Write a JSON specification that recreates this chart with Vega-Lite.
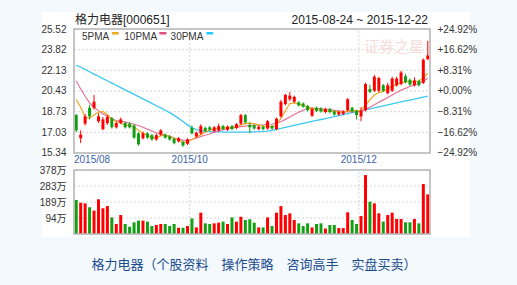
{
  "$schema": "https://vega.github.io/schema/vega-lite/v6.json",
  "width": 366,
  "height": 205,
  "autosize": {"type": "none"},
  "padding": {"left": 69, "top": 29, "right": 82, "bottom": 51},
  "background": "#f4f9fe",
  "config": {"view": {"stroke": null}, "font": "Liberation Sans, Noto Sans CJK SC"},
  "datasets": {
    "k": [
      {"d":"2015-08-24","i":0,"o":18.45,"h":18.55,"l":17.05,"c":17.20,"dir":"down","v":201,"m5":19.72,"m10":21.25,"m30":22.55},
      {"d":"2015-08-25","i":1,"o":16.55,"h":17.20,"l":16.15,"c":16.85,"dir":"up","v":185,"m5":19.10,"m10":20.60,"m30":22.38},
      {"d":"2015-08-26","i":2,"o":17.75,"h":18.55,"l":17.60,"c":18.35,"dir":"up","v":181,"m5":18.25,"m10":20.00,"m30":22.20},
      {"d":"2015-08-27","i":3,"o":19.05,"h":19.30,"l":18.10,"c":18.35,"dir":"down","v":158,"m5":18.20,"m10":19.45,"m30":22.01},
      {"d":"2015-08-28","i":4,"o":19.05,"h":20.10,"l":18.90,"c":19.55,"dir":"up","v":138,"m5":18.45,"m10":19.10,"m30":21.82},
      {"d":"2015-08-31","i":5,"o":17.95,"h":18.60,"l":17.80,"c":18.35,"dir":"up","v":205,"m5":18.70,"m10":18.80,"m30":21.64},
      {"d":"2015-09-01","i":6,"o":17.30,"h":18.30,"l":17.20,"c":18.10,"dir":"up","v":152,"m5":18.75,"m10":18.55,"m30":21.45},
      {"d":"2015-09-02","i":7,"o":17.80,"h":18.45,"l":17.65,"c":18.30,"dir":"up","v":165,"m5":18.50,"m10":18.35,"m30":21.27},
      {"d":"2015-09-07","i":8,"o":18.20,"h":18.30,"l":17.35,"c":17.45,"dir":"down","v":98,"m5":18.10,"m10":18.15,"m30":21.08},
      {"d":"2015-09-08","i":9,"o":17.45,"h":17.95,"l":17.35,"c":17.80,"dir":"up","v":59,"m5":17.95,"m10":18.00,"m30":20.90},
      {"d":"2015-09-09","i":10,"o":17.80,"h":18.25,"l":17.70,"c":18.10,"dir":"up","v":112,"m5":17.80,"m10":17.95,"m30":20.71},
      {"d":"2015-09-10","i":11,"o":17.80,"h":17.90,"l":17.35,"c":17.45,"dir":"down","v":59,"m5":17.65,"m10":17.90,"m30":20.52},
      {"d":"2015-09-11","i":12,"o":17.75,"h":17.85,"l":17.35,"c":17.45,"dir":"down","v":43,"m5":17.60,"m10":17.80,"m30":20.34},
      {"d":"2015-09-14","i":13,"o":17.60,"h":17.70,"l":16.50,"c":16.60,"dir":"down","v":69,"m5":17.45,"m10":17.70,"m30":20.15},
      {"d":"2015-09-15","i":14,"o":16.95,"h":17.05,"l":15.95,"c":16.05,"dir":"down","v":79,"m5":17.20,"m10":17.60,"m30":19.97},
      {"d":"2015-09-16","i":15,"o":16.55,"h":17.10,"l":16.45,"c":16.95,"dir":"up","v":79,"m5":16.95,"m10":17.45,"m30":19.78},
      {"d":"2015-09-17","i":16,"o":16.95,"h":17.05,"l":16.50,"c":16.60,"dir":"down","v":73,"m5":16.80,"m10":17.30,"m30":19.60},
      {"d":"2015-09-18","i":17,"o":16.80,"h":16.90,"l":16.35,"c":16.45,"dir":"down","v":47,"m5":16.60,"m10":17.15,"m30":19.41},
      {"d":"2015-09-21","i":18,"o":16.45,"h":16.95,"l":16.35,"c":16.80,"dir":"up","v":53,"m5":16.60,"m10":17.00,"m30":19.22},
      {"d":"2015-09-22","i":19,"o":16.85,"h":17.30,"l":16.75,"c":17.20,"dir":"up","v":59,"m5":16.75,"m10":16.90,"m30":19.04},
      {"d":"2015-09-23","i":20,"o":16.85,"h":16.95,"l":16.50,"c":16.60,"dir":"down","v":59,"m5":16.80,"m10":16.80,"m30":18.85},
      {"d":"2015-09-24","i":21,"o":16.70,"h":16.80,"l":16.35,"c":16.45,"dir":"down","v":47,"m5":16.70,"m10":16.70,"m30":18.65},
      {"d":"2015-09-25","i":22,"o":16.50,"h":16.60,"l":16.05,"c":16.15,"dir":"down","v":59,"m5":16.55,"m10":16.55,"m30":18.43},
      {"d":"2015-09-28","i":23,"o":16.30,"h":16.65,"l":16.20,"c":16.55,"dir":"up","v":37,"m5":16.40,"m10":16.45,"m30":18.18},
      {"d":"2015-09-29","i":24,"o":16.25,"h":16.35,"l":15.85,"c":15.95,"dir":"down","v":37,"m5":16.20,"m10":16.40,"m30":17.92},
      {"d":"2015-09-30","i":25,"o":16.10,"h":16.55,"l":16.00,"c":16.45,"dir":"up","v":47,"m5":16.25,"m10":16.38,"m30":17.65},
      {"d":"2015-10-08","i":26,"o":17.40,"h":17.60,"l":16.85,"c":16.95,"dir":"down","v":92,"m5":16.45,"m10":16.45,"m30":17.42},
      {"d":"2015-10-09","i":27,"o":16.70,"h":17.10,"l":16.60,"c":17.00,"dir":"up","v":39,"m5":16.65,"m10":16.55,"m30":17.25},
      {"d":"2015-10-12","i":28,"o":16.95,"h":17.70,"l":16.85,"c":17.55,"dir":"up","v":126,"m5":16.85,"m10":16.70,"m30":17.17},
      {"d":"2015-10-13","i":29,"o":17.40,"h":17.50,"l":17.05,"c":17.15,"dir":"down","v":63,"m5":17.05,"m10":16.80,"m30":17.12},
      {"d":"2015-10-14","i":30,"o":17.45,"h":17.55,"l":17.15,"c":17.25,"dir":"down","v":59,"m5":17.25,"m10":16.90,"m30":17.10},
      {"d":"2015-10-15","i":31,"o":17.15,"h":17.55,"l":17.05,"c":17.45,"dir":"up","v":63,"m5":17.30,"m10":17.05,"m30":17.08},
      {"d":"2015-10-16","i":32,"o":17.20,"h":17.75,"l":17.10,"c":17.55,"dir":"up","v":67,"m5":17.35,"m10":17.15,"m30":17.07},
      {"d":"2015-10-19","i":33,"o":17.55,"h":17.65,"l":17.20,"c":17.30,"dir":"down","v":73,"m5":17.40,"m10":17.25,"m30":17.06},
      {"d":"2015-10-20","i":34,"o":17.25,"h":17.60,"l":17.15,"c":17.50,"dir":"up","v":59,"m5":17.40,"m10":17.35,"m30":17.05},
      {"d":"2015-10-21","i":35,"o":17.55,"h":17.65,"l":17.20,"c":17.30,"dir":"down","v":98,"m5":17.45,"m10":17.40,"m30":17.05},
      {"d":"2015-10-22","i":36,"o":17.40,"h":17.80,"l":17.30,"c":17.70,"dir":"up","v":73,"m5":17.50,"m10":17.45,"m30":17.05},
      {"d":"2015-10-23","i":37,"o":17.75,"h":18.55,"l":17.65,"c":18.45,"dir":"up","v":102,"m5":17.65,"m10":17.50,"m30":17.06},
      {"d":"2015-10-26","i":38,"o":18.45,"h":18.55,"l":17.75,"c":17.85,"dir":"down","v":83,"m5":17.75,"m10":17.55,"m30":17.06},
      {"d":"2015-10-27","i":39,"o":17.65,"h":17.85,"l":16.95,"c":17.45,"dir":"down","v":87,"m5":17.80,"m10":17.60,"m30":17.07},
      {"d":"2015-10-28","i":40,"o":17.60,"h":17.70,"l":17.25,"c":17.35,"dir":"down","v":67,"m5":17.75,"m10":17.62,"m30":17.08},
      {"d":"2015-10-29","i":41,"o":17.30,"h":17.60,"l":17.20,"c":17.50,"dir":"up","v":39,"m5":17.65,"m10":17.64,"m30":17.09},
      {"d":"2015-10-30","i":42,"o":17.50,"h":17.60,"l":17.20,"c":17.30,"dir":"down","v":39,"m5":17.55,"m10":17.66,"m30":17.11},
      {"d":"2015-11-02","i":43,"o":17.35,"h":18.05,"l":17.25,"c":17.95,"dir":"up","v":98,"m5":17.50,"m10":17.70,"m30":17.14},
      {"d":"2015-11-03","i":44,"o":17.55,"h":17.65,"l":17.25,"c":17.35,"dir":"down","v":47,"m5":17.50,"m10":17.72,"m30":17.20},
      {"d":"2015-11-04","i":45,"o":17.30,"h":18.25,"l":17.20,"c":18.15,"dir":"up","v":126,"m5":17.60,"m10":17.78,"m30":17.28},
      {"d":"2015-11-05","i":46,"o":18.35,"h":19.70,"l":18.25,"c":19.55,"dir":"up","v":165,"m5":18.20,"m10":17.90,"m30":17.36},
      {"d":"2015-11-06","i":47,"o":19.35,"h":20.20,"l":19.25,"c":20.10,"dir":"up","v":112,"m5":18.80,"m10":18.10,"m30":17.45},
      {"d":"2015-11-09","i":48,"o":19.75,"h":20.35,"l":19.60,"c":20.05,"dir":"up","v":122,"m5":19.40,"m10":18.30,"m30":17.53},
      {"d":"2015-11-10","i":49,"o":19.55,"h":20.05,"l":19.45,"c":19.95,"dir":"up","v":83,"m5":19.45,"m10":18.50,"m30":17.61},
      {"d":"2015-11-11","i":50,"o":19.50,"h":19.60,"l":19.15,"c":19.25,"dir":"down","v":63,"m5":19.35,"m10":18.70,"m30":17.69},
      {"d":"2015-11-12","i":51,"o":19.40,"h":19.50,"l":19.05,"c":19.15,"dir":"down","v":47,"m5":19.25,"m10":18.85,"m30":17.77},
      {"d":"2015-11-13","i":52,"o":19.20,"h":19.30,"l":18.75,"c":18.85,"dir":"down","v":63,"m5":19.10,"m10":19.00,"m30":17.85},
      {"d":"2015-11-16","i":53,"o":18.40,"h":19.05,"l":18.30,"c":18.95,"dir":"up","v":39,"m5":19.00,"m10":19.02,"m30":17.93},
      {"d":"2015-11-17","i":54,"o":19.05,"h":19.15,"l":18.70,"c":18.80,"dir":"down","v":59,"m5":18.90,"m10":19.00,"m30":18.01},
      {"d":"2015-11-18","i":55,"o":19.00,"h":19.10,"l":18.65,"c":18.75,"dir":"down","v":63,"m5":18.85,"m10":18.97,"m30":18.09},
      {"d":"2015-11-19","i":56,"o":18.70,"h":19.05,"l":18.60,"c":18.95,"dir":"up","v":33,"m5":18.80,"m10":18.95,"m30":18.17},
      {"d":"2015-11-20","i":57,"o":18.95,"h":19.05,"l":18.60,"c":18.70,"dir":"down","v":53,"m5":18.78,"m10":18.90,"m30":18.25},
      {"d":"2015-11-23","i":58,"o":18.75,"h":18.85,"l":18.40,"c":18.50,"dir":"down","v":53,"m5":18.75,"m10":18.85,"m30":18.33},
      {"d":"2015-11-24","i":59,"o":18.50,"h":18.80,"l":18.40,"c":18.70,"dir":"up","v":35,"m5":18.72,"m10":18.80,"m30":18.41},
      {"d":"2015-11-25","i":60,"o":18.55,"h":18.85,"l":18.45,"c":18.75,"dir":"up","v":35,"m5":18.70,"m10":18.75,"m30":18.49},
      {"d":"2015-11-26","i":61,"o":18.85,"h":19.85,"l":18.75,"c":19.75,"dir":"up","v":128,"m5":18.80,"m10":18.72,"m30":18.57},
      {"d":"2015-11-27","i":62,"o":19.05,"h":19.15,"l":18.65,"c":18.75,"dir":"down","v":83,"m5":18.82,"m10":18.72,"m30":18.65},
      {"d":"2015-11-30","i":63,"o":18.80,"h":18.90,"l":18.10,"c":18.45,"dir":"down","v":59,"m5":18.80,"m10":18.75,"m30":18.73},
      {"d":"2015-12-01","i":64,"o":18.35,"h":19.10,"l":17.95,"c":18.80,"dir":"up","v":106,"m5":18.85,"m10":18.78,"m30":18.81},
      {"d":"2015-12-02","i":65,"o":18.85,"h":21.10,"l":18.75,"c":21.00,"dir":"up","v":348,"m5":19.25,"m10":18.90,"m30":18.89},
      {"d":"2015-12-03","i":66,"o":20.60,"h":20.95,"l":20.25,"c":20.35,"dir":"down","v":191,"m5":19.70,"m10":19.10,"m30":18.97},
      {"d":"2015-12-04","i":67,"o":20.45,"h":21.75,"l":20.35,"c":21.60,"dir":"up","v":181,"m5":20.10,"m10":19.30,"m30":19.05},
      {"d":"2015-12-07","i":68,"o":20.45,"h":21.60,"l":20.35,"c":21.50,"dir":"up","v":122,"m5":20.30,"m10":19.50,"m30":19.13},
      {"d":"2015-12-08","i":69,"o":20.90,"h":21.00,"l":20.35,"c":20.45,"dir":"down","v":73,"m5":20.40,"m10":19.70,"m30":19.21},
      {"d":"2015-12-09","i":70,"o":20.25,"h":21.10,"l":20.15,"c":20.90,"dir":"up","v":112,"m5":20.60,"m10":19.90,"m30":19.29},
      {"d":"2015-12-10","i":71,"o":20.45,"h":21.60,"l":20.35,"c":21.45,"dir":"up","v":126,"m5":20.80,"m10":20.10,"m30":19.37},
      {"d":"2015-12-11","i":72,"o":20.90,"h":21.60,"l":20.80,"c":21.45,"dir":"up","v":89,"m5":20.95,"m10":20.30,"m30":19.45},
      {"d":"2015-12-14","i":73,"o":21.00,"h":22.10,"l":20.90,"c":21.95,"dir":"up","v":89,"m5":21.10,"m10":20.50,"m30":19.53},
      {"d":"2015-12-15","i":74,"o":21.65,"h":21.85,"l":21.05,"c":21.15,"dir":"down","v":69,"m5":21.20,"m10":20.65,"m30":19.61},
      {"d":"2015-12-16","i":75,"o":21.35,"h":21.45,"l":20.85,"c":20.95,"dir":"down","v":69,"m5":21.20,"m10":20.80,"m30":19.69},
      {"d":"2015-12-17","i":76,"o":20.90,"h":21.55,"l":20.80,"c":21.30,"dir":"up","v":89,"m5":21.20,"m10":20.92,"m30":19.77},
      {"d":"2015-12-18","i":77,"o":21.25,"h":21.35,"l":20.80,"c":20.90,"dir":"down","v":63,"m5":21.25,"m10":21.05,"m30":19.85},
      {"d":"2015-12-21","i":78,"o":21.10,"h":23.10,"l":21.00,"c":23.00,"dir":"up","v":295,"m5":21.50,"m10":21.25,"m30":19.93},
      {"d":"2015-12-22","i":79,"o":23.05,"h":24.55,"l":22.95,"c":23.35,"dir":"up","v":234,"m5":21.90,"m10":21.47,"m30":20.01}
    ],
    "pg": [{"v": 17.03}, {"v": 18.73}, {"v": 20.43}, {"v": 22.13}, {"v": 23.82}],
    "vg": [{"v": 94.5}, {"v": 189}, {"v": 283.5}]
  },
  "resolve": {"scale": {"y": "independent"}, "axis": {"y": "independent"}},
  "layer": [
    {
      "layer": [
        {
          "data": {"values": [{}]},
          "mark": {"type": "rect", "fill": "#ffffff", "clip": false},
          "encoding": {
            "x": {"datum": -7.71, "type": "quantitative", "scale": {"domain": [-0.5, 79.5], "nice": false, "zero": false}, "axis": null},
            "x2": {"datum": 88.46},
            "y": {"datum": 26.916, "type": "quantitative", "scale": {"domain": [8.69, 25.52], "nice": false, "zero": false}, "axis": null},
            "y2": {"datum": 8.444}
          }
        },
        {
          "data": {"name": "pg"},
          "mark": {"type": "rule", "stroke": "#d6d6d6", "strokeDash": [2, 2], "strokeWidth": 1},
          "encoding": {
            "x": {"datum": -0.5, "type": "quantitative", "scale": {"domain": [-0.5, 79.5], "nice": false, "zero": false}, "axis": null},
            "x2": {"datum": 79.5},
            "y": {"field": "v", "type": "quantitative", "scale": {"domain": [8.69, 25.52], "nice": false, "zero": false}, "axis": null}
          }
        },
        {
          "data": {"values": [{}]},
          "mark": {"type": "rule", "stroke": "#d6d6d6", "strokeDash": [2, 2], "strokeWidth": 1},
          "encoding": {
            "x": {"datum": 25.5, "type": "quantitative", "scale": {"domain": [-0.5, 79.5], "nice": false, "zero": false}, "axis": null},
            "y": {"datum": 15.34, "type": "quantitative", "scale": {"domain": [8.69, 25.52], "nice": false, "zero": false}, "axis": null},
            "y2": {"datum": 25.52}
          }
        },
        {
          "data": {"values": [{}]},
          "mark": {"type": "rule", "stroke": "#d6d6d6", "strokeDash": [2, 2], "strokeWidth": 1},
          "encoding": {
            "x": {"datum": 63.5, "type": "quantitative", "scale": {"domain": [-0.5, 79.5], "nice": false, "zero": false}, "axis": null},
            "y": {"datum": 15.34, "type": "quantitative", "scale": {"domain": [8.69, 25.52], "nice": false, "zero": false}, "axis": null},
            "y2": {"datum": 25.52}
          }
        },
        {
          "data": {"name": "k"},
          "mark": {"type": "line", "stroke": "#3cc8f4", "strokeWidth": 1.3},
          "encoding": {
            "x": {"field": "i", "type": "quantitative", "scale": {"domain": [-0.5, 79.5], "nice": false, "zero": false}, "axis": null},
            "y": {"field": "m30", "type": "quantitative", "scale": {"domain": [8.69, 25.52], "nice": false, "zero": false}, "axis": null}
          }
        },
        {
          "data": {"name": "k"},
          "mark": {"type": "line", "stroke": "#e4749c", "strokeWidth": 1.2},
          "encoding": {
            "x": {"field": "i", "type": "quantitative", "scale": {"domain": [-0.5, 79.5], "nice": false, "zero": false}, "axis": null},
            "y": {"field": "m10", "type": "quantitative", "scale": {"domain": [8.69, 25.52], "nice": false, "zero": false}, "axis": null}
          }
        },
        {
          "data": {"name": "k"},
          "mark": {"type": "line", "stroke": "#eeaa22", "strokeWidth": 1.2},
          "encoding": {
            "x": {"field": "i", "type": "quantitative", "scale": {"domain": [-0.5, 79.5], "nice": false, "zero": false}, "axis": null},
            "y": {"field": "m5", "type": "quantitative", "scale": {"domain": [8.69, 25.52], "nice": false, "zero": false}, "axis": null}
          }
        },
        {
          "data": {"name": "k"},
          "mark": {"type": "rule", "strokeWidth": 1},
          "encoding": {
            "x": {"field": "i", "type": "quantitative", "scale": {"domain": [-0.5, 79.5], "nice": false, "zero": false}, "axis": null},
            "y": {"field": "l", "type": "quantitative", "scale": {"domain": [8.69, 25.52], "nice": false, "zero": false}, "axis": null},
            "y2": {"field": "h"},
            "color": {"field": "dir", "type": "nominal", "scale": {"domain": ["up", "down"], "range": ["#ff0000", "#12a012"]}, "legend": null}
          }
        },
        {
          "data": {"name": "k"},
          "mark": {"type": "bar", "size": 3},
          "encoding": {
            "x": {"field": "i", "type": "quantitative", "scale": {"domain": [-0.5, 79.5], "nice": false, "zero": false}, "axis": null},
            "y": {"field": "o", "type": "quantitative", "scale": {"domain": [8.69, 25.52], "nice": false, "zero": false}, "axis": null},
            "y2": {"field": "c"},
            "color": {"field": "dir", "type": "nominal", "scale": {"domain": ["up", "down"], "range": ["#ff0000", "#12a012"]}, "legend": null}
          }
        },
        {
          "data": {"values": [{}]},
          "mark": {"type": "rect", "fillOpacity": 0, "stroke": "#b2b2b2", "strokeWidth": 1.5, "clip": false},
          "encoding": {
            "x": {"datum": -0.5, "type": "quantitative", "scale": {"domain": [-0.5, 79.5], "nice": false, "zero": false}, "axis": null},
            "x2": {"datum": 79.5},
            "y": {"datum": 15.34, "type": "quantitative", "scale": {"domain": [8.69, 25.52], "nice": false, "zero": false}, "axis": null},
            "y2": {"datum": 25.52}
          }
        },
        {
          "data": {"values": [{}]},
          "mark": {"type": "text", "text": "证券之星", "font": "Noto Sans CJK SC", "fontSize": 15, "color": "#f7dcdc", "align": "center", "baseline": "middle", "clip": false},
          "encoding": {
            "x": {"datum": 71.4, "type": "quantitative", "scale": {"domain": [-0.5, 79.5], "nice": false, "zero": false}, "axis": null},
            "y": {"datum": 24.04, "type": "quantitative", "scale": {"domain": [8.69, 25.52], "nice": false, "zero": false}, "axis": null}
          }
        },
        {
          "data": {"values": [{}]},
          "mark": {"type": "text", "text": "5PMA", "fontSize": 10, "color": "#333333", "align": "left", "baseline": "middle", "clip": false},
          "encoding": {
            "x": {"datum": 1.31, "type": "quantitative", "scale": {"domain": [-0.5, 79.5], "nice": false, "zero": false}, "axis": null},
            "y": {"datum": 24.84, "type": "quantitative", "scale": {"domain": [8.69, 25.52], "nice": false, "zero": false}, "axis": null}
          }
        },
        {
          "data": {"values": [{}]},
          "mark": {"type": "text", "text": "10PMA", "fontSize": 10, "color": "#333333", "align": "left", "baseline": "middle", "clip": false},
          "encoding": {
            "x": {"datum": 10.8, "type": "quantitative", "scale": {"domain": [-0.5, 79.5], "nice": false, "zero": false}, "axis": null},
            "y": {"datum": 24.84, "type": "quantitative", "scale": {"domain": [8.69, 25.52], "nice": false, "zero": false}, "axis": null}
          }
        },
        {
          "data": {"values": [{}]},
          "mark": {"type": "text", "text": "30PMA", "fontSize": 10, "color": "#333333", "align": "left", "baseline": "middle", "clip": false},
          "encoding": {
            "x": {"datum": 21.2, "type": "quantitative", "scale": {"domain": [-0.5, 79.5], "nice": false, "zero": false}, "axis": null},
            "y": {"datum": 24.84, "type": "quantitative", "scale": {"domain": [8.69, 25.52], "nice": false, "zero": false}, "axis": null}
          }
        },
        {
          "data": {"values": [{}]},
          "mark": {"type": "rule", "stroke": "#eeaa22", "strokeWidth": 2.5, "clip": false},
          "encoding": {
            "x": {"datum": 8.02, "type": "quantitative", "scale": {"domain": [-0.5, 79.5], "nice": false, "zero": false}, "axis": null},
            "x2": {"datum": 9.55},
            "y": {"datum": 25.17, "type": "quantitative", "scale": {"domain": [8.69, 25.52], "nice": false, "zero": false}, "axis": null}
          }
        },
        {
          "data": {"values": [{}]},
          "mark": {"type": "rule", "stroke": "#e0507e", "strokeWidth": 2.5, "clip": false},
          "encoding": {
            "x": {"datum": 18.67, "type": "quantitative", "scale": {"domain": [-0.5, 79.5], "nice": false, "zero": false}, "axis": null},
            "x2": {"datum": 20.27},
            "y": {"datum": 25.17, "type": "quantitative", "scale": {"domain": [8.69, 25.52], "nice": false, "zero": false}, "axis": null}
          }
        },
        {
          "data": {"values": [{}]},
          "mark": {"type": "rule", "stroke": "#22ccff", "strokeWidth": 2.5, "clip": false},
          "encoding": {
            "x": {"datum": 29.23, "type": "quantitative", "scale": {"domain": [-0.5, 79.5], "nice": false, "zero": false}, "axis": null},
            "x2": {"datum": 30.76},
            "y": {"datum": 25.17, "type": "quantitative", "scale": {"domain": [8.69, 25.52], "nice": false, "zero": false}, "axis": null}
          }
        },
        {
          "data": {"values": [{}]},
          "mark": {"type": "text", "text": "格力电器[000651]", "fontSize": 12, "color": "#222222", "align": "left", "baseline": "middle", "clip": false},
          "encoding": {
            "x": {"datum": -0.28, "type": "quantitative", "scale": {"domain": [-0.5, 79.5], "nice": false, "zero": false}, "axis": null},
            "y": {"datum": 26.26, "type": "quantitative", "scale": {"domain": [8.69, 25.52], "nice": false, "zero": false}, "axis": null}
          }
        },
        {
          "data": {"values": [{}]},
          "mark": {"type": "text", "text": "2015-08-24 ~ 2015-12-22", "fontSize": 12, "color": "#222222", "align": "right", "baseline": "middle", "clip": false},
          "encoding": {
            "x": {"datum": 79.06, "type": "quantitative", "scale": {"domain": [-0.5, 79.5], "nice": false, "zero": false}, "axis": null},
            "y": {"datum": 26.26, "type": "quantitative", "scale": {"domain": [8.69, 25.52], "nice": false, "zero": false}, "axis": null}
          }
        },
        {
          "data": {"values": [{}]},
          "mark": {"type": "text", "text": "2015/08", "fontSize": 10, "color": "#3a64a8", "align": "left", "baseline": "middle", "clip": false},
          "encoding": {
            "x": {"datum": -0.5, "type": "quantitative", "scale": {"domain": [-0.5, 79.5], "nice": false, "zero": false}, "axis": null},
            "y": {"datum": 14.77, "type": "quantitative", "scale": {"domain": [8.69, 25.52], "nice": false, "zero": false}, "axis": null}
          }
        },
        {
          "data": {"values": [{}]},
          "mark": {"type": "text", "text": "2015/10", "fontSize": 10, "color": "#3a64a8", "align": "center", "baseline": "middle", "clip": false},
          "encoding": {
            "x": {"datum": 25.5, "type": "quantitative", "scale": {"domain": [-0.5, 79.5], "nice": false, "zero": false}, "axis": null},
            "y": {"datum": 14.77, "type": "quantitative", "scale": {"domain": [8.69, 25.52], "nice": false, "zero": false}, "axis": null}
          }
        },
        {
          "data": {"values": [{}]},
          "mark": {"type": "text", "text": "2015/12", "fontSize": 10, "color": "#3a64a8", "align": "center", "baseline": "middle", "clip": false},
          "encoding": {
            "x": {"datum": 63.5, "type": "quantitative", "scale": {"domain": [-0.5, 79.5], "nice": false, "zero": false}, "axis": null},
            "y": {"datum": 14.77, "type": "quantitative", "scale": {"domain": [8.69, 25.52], "nice": false, "zero": false}, "axis": null}
          }
        },
        {
          "data": {"values": [{}]},
          "mark": {"type": "text", "text": "格力电器（个股资料　操作策略　咨询高手　实盘买卖）", "font": "Noto Sans CJK SC", "fontSize": 13, "color": "#1b4c8d", "align": "center", "baseline": "middle", "clip": false},
          "encoding": {
            "x": {"datum": 39.94, "type": "quantitative", "scale": {"domain": [-0.5, 79.5], "nice": false, "zero": false}, "axis": null},
            "y": {"datum": 6.15, "type": "quantitative", "scale": {"domain": [8.69, 25.52], "nice": false, "zero": false}, "axis": null}
          }
        }
      ]
    },
    {
      "layer": [
        {
          "data": {"name": "vg"},
          "mark": {"type": "rule", "stroke": "#d6d6d6", "strokeDash": [2, 2], "strokeWidth": 1},
          "encoding": {
            "x": {"datum": -0.5, "type": "quantitative", "scale": {"domain": [-0.5, 79.5], "nice": false, "zero": false}, "axis": null},
            "x2": {"datum": 79.5},
            "y": {"field": "v", "type": "quantitative", "scale": {"domain": [0, 1210.8], "nice": false, "zero": false}, "axis": null}
          }
        },
        {
          "data": {"values": [{}]},
          "mark": {"type": "rule", "stroke": "#d6d6d6", "strokeDash": [2, 2], "strokeWidth": 1},
          "encoding": {
            "x": {"datum": 25.5, "type": "quantitative", "scale": {"domain": [-0.5, 79.5], "nice": false, "zero": false}, "axis": null},
            "y": {"datum": 0, "type": "quantitative", "scale": {"domain": [0, 1210.8], "nice": false, "zero": false}, "axis": null},
            "y2": {"datum": 378}
          }
        },
        {
          "data": {"values": [{}]},
          "mark": {"type": "rule", "stroke": "#d6d6d6", "strokeDash": [2, 2], "strokeWidth": 1},
          "encoding": {
            "x": {"datum": 63.5, "type": "quantitative", "scale": {"domain": [-0.5, 79.5], "nice": false, "zero": false}, "axis": null},
            "y": {"datum": 0, "type": "quantitative", "scale": {"domain": [0, 1210.8], "nice": false, "zero": false}, "axis": null},
            "y2": {"datum": 378}
          }
        },
        {
          "data": {"name": "k"},
          "mark": {"type": "bar", "size": 3},
          "encoding": {
            "x": {"field": "i", "type": "quantitative", "scale": {"domain": [-0.5, 79.5], "nice": false, "zero": false}, "axis": null},
            "y": {"field": "v", "type": "quantitative", "scale": {"domain": [0, 1210.8], "nice": false, "zero": false}, "axis": null},
            "color": {"field": "dir", "type": "nominal", "scale": {"domain": ["up", "down"], "range": ["#ff0000", "#12a012"]}, "legend": null}
          }
        },
        {
          "data": {"values": [{}]},
          "mark": {"type": "rect", "fillOpacity": 0, "stroke": "#b2b2b2", "strokeWidth": 1.5, "clip": false},
          "encoding": {
            "x": {"datum": -0.5, "type": "quantitative", "scale": {"domain": [-0.5, 79.5], "nice": false, "zero": false}, "axis": null},
            "x2": {"datum": 79.5},
            "y": {"datum": 0, "type": "quantitative", "scale": {"domain": [0, 1210.8], "nice": false, "zero": false}, "axis": null},
            "y2": {"datum": 378}
          }
        }
      ]
    },
    {
      "data": {"values": [{}]},
      "mark": {"type": "point", "opacity": 0},
      "encoding": {
        "y": {"datum": 20, "type": "quantitative", "scale": {"domain": [8.69, 25.52], "nice": false, "zero": false},
          "axis": {"orient": "left", "values": [15.34, 17.03, 18.73, 20.43, 22.13, 23.82, 25.52], "format": ".2f", "grid": false, "domain": false, "ticks": false, "labelPadding": 3, "labelFontSize": 10, "labelColor": "#333333", "labelFlush": false, "labelOverlap": false, "labelBaseline": "middle", "title": null, "zindex": 1}}
      }
    },
    {
      "data": {"values": [{}]},
      "mark": {"type": "point", "opacity": 0},
      "encoding": {
        "y": {"datum": 100, "type": "quantitative", "scale": {"domain": [0, 1210.8], "nice": false, "zero": false},
          "axis": {"orient": "left", "values": [94.5, 189, 283.5, 378], "labelExpr": "floor(datum.value) + '万'", "grid": false, "domain": false, "ticks": false, "labelPadding": 3, "labelFontSize": 10, "labelColor": "#333333", "labelFlush": false, "labelOverlap": false, "labelBaseline": "middle", "title": null, "zindex": 1}}
      }
    },
    {
      "data": {"values": [{}]},
      "mark": {"type": "point", "opacity": 0},
      "encoding": {
        "y": {"datum": 0, "type": "quantitative", "scale": {"domain": [-57.477, 24.92], "nice": false, "zero": false},
          "axis": {"orient": "right", "values": [-24.92, -16.62, -8.31, 0, 8.31, 16.62, 24.92], "labelExpr": "(datum.value >= 0 ? '+' : '') + format(datum.value, '.2f') + '%'", "grid": false, "domain": false, "ticks": false, "labelPadding": 2, "labelFontSize": 10, "labelColor": "#333333", "labelFlush": false, "labelOverlap": false, "labelBaseline": "middle", "title": null, "zindex": 1}}
      }
    }
  ]
}
